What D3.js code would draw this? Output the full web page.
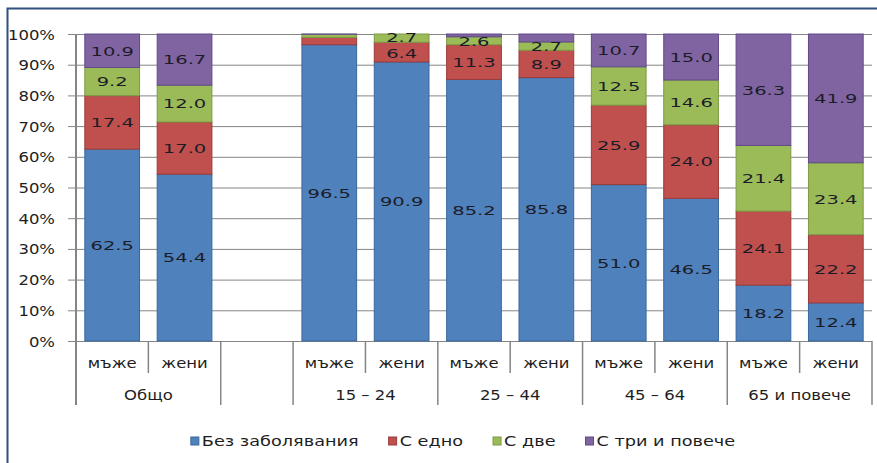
<!DOCTYPE html>
<html>
<head>
<meta charset="utf-8">
<script src="https://cdn.jsdelivr.net/npm/d3@7"></script>
<style>
  html, body { margin: 0; padding: 0; background: #fff; }
  svg { display: block; }
  text { font-family: "DejaVu Sans", Verdana, sans-serif; fill: #1e1e1e; }
</style>
</head>
<body>
<svg id="chart" width="877" height="463"></svg>
<script>
// Slots along the x axis (one empty slot separates the total from the age groups)
const slotGroup = ["Общо", "Общо", "", "15 – 24", "15 – 24", "25 – 44", "25 – 44", "45 – 64", "45 – 64", "65 и повече", "65 и повече"];
const slotSex   = ["мъже", "жени", "", "мъже", "жени", "мъже", "жени", "мъже", "жени", "мъже", "жени"];

// Share of people by number of chronic diseases (%)
const noneVals  = [62.5, 54.4, null, 96.5, 90.9, 85.2, 85.8, 51.0, 46.5, 18.2, 12.4];
const oneVals   = [17.4, 17.0, null,  2.4,  6.4, 11.3,  8.9, 25.9, 24.0, 24.1, 22.2];
const twoVals   = [ 9.2, 12.0, null,  1.0,  2.7,  2.6,  2.7, 12.5, 14.6, 21.4, 23.4];
const threeVals = [10.9, 16.7, null,  0.1,  0.0,  0.9,  2.6, 10.7, 15.0, 36.3, 41.9];

const seriesNames  = ["Без заболявания", "С едно", "С две", "С три и повече"];
const seriesColors = ["#4F81BD", "#C0504D", "#9BBB59", "#8064A2"];
const seriesStroke = ["#3b679c", "#9a3b39", "#7d9a44", "#62498a"];

// Segments left without a value label (slot, series)
const unlabeled = [[3, 1], [3, 2], [3, 3], [4, 3], [5, 3], [6, 3]];

const yTicks = [0, 10, 20, 30, 40, 50, 60, 70, 80, 90, 100];

const TX = 1.22;      // horizontal stretch of axis text
const TX_VAL = 1.5;   // horizontal stretch of value labels

const svg = d3.select("#chart");
const W = 877, H = 463;
const plot = { left: 76, right: 872, top: 34, bottom: 341 };

const slots = d3.range(slotGroup.length);
const allSeries = [noneVals, oneVals, twoVals, threeVals];

const x = d3.scaleBand()
  .domain(slots)
  .range([plot.left, plot.right])
  .paddingInner(0.23)
  .paddingOuter(0.115);

const y = d3.scaleLinear().domain([0, 1]).range([plot.bottom, plot.top]);
const yPct = d3.scaleLinear().domain([0, 100]).range([plot.bottom, plot.top]);

// frame lines on the top and left edges
svg.append("path")
  .attr("d", `M7.5,${H} L7.5,8.5 L${W},8.5`)
  .attr("fill", "none")
  .attr("stroke", "#30507f")
  .attr("stroke-width", 2);

// gridlines + ticks
const yAxis = d3.axisLeft(yPct)
  .tickValues(yTicks)
  .tickSize(-(plot.right - plot.left))
  .tickPadding(0)
  .tickFormat(d => d + "%");

const gy = svg.append("g")
  .attr("transform", `translate(${plot.left},0)`)
  .call(yAxis);
gy.select(".domain").remove();
gy.selectAll(".tick line")
  .attr("x1", -8)
  .attr("stroke", "#858585")
  .attr("stroke-width", 1);
gy.selectAll(".tick text").remove();
gy.selectAll(".tick").append("text")
  .attr("transform", `translate(-21,5) scale(${TX},1)`)
  .attr("text-anchor", "end")
  .style("font-size", "13.5px")
  .text(d => d + "%");

// stacked bars (100% stacked)
const rows = slots.filter(i => noneVals[i] != null).map(i => {
  const r = { slot: i };
  allSeries.forEach((s, k) => { r[k] = s[i]; });
  return r;
});
const stacked = d3.stack()
  .keys([0, 1, 2, 3])
  .offset(d3.stackOffsetExpand)(rows);

const layers = svg.append("g").selectAll("g")
  .data(stacked)
  .join("g")
  .attr("fill", d => seriesColors[d.key])
  .attr("stroke", d => seriesStroke[d.key])
  .attr("stroke-width", 1);

layers.selectAll("rect")
  .data(d => d)
  .join("rect")
  .attr("x", d => x(d.data.slot) + 0.5)
  .attr("width", x.bandwidth() - 1)
  .attr("y", d => y(d[1]))
  .attr("height", d => Math.max(0, y(d[0]) - y(d[1])));

// value labels, centered in their segments
const hidden = new Set(unlabeled.map(([s, k]) => s + "-" + k));
const labelData = [];
stacked.forEach(layer => {
  layer.forEach(d => {
    const slot = d.data.slot, k = layer.key;
    if (hidden.has(slot + "-" + k)) return;
    labelData.push({ slot, k, v: allSeries[k][slot], cy: y((d[0] + d[1]) / 2) });
  });
});
// keep neighbouring labels of a bar from running into each other
const minSep = 15.5;
d3.groups(labelData, d => d.slot).forEach(([, list]) => {
  list.sort((a, b) => a.cy - b.cy);
  for (let i = 1; i < list.length; i++) {
    const a = list[i - 1], b = list[i];
    const gapNow = b.cy - a.cy;
    if (gapNow < minSep) {
      const push = (minSep - gapNow) / 2;
      a.cy -= push;
      b.cy += push;
    }
  }
});
svg.append("g").selectAll("text")
  .data(labelData)
  .join("text")
  .attr("transform", d => `translate(${x(d.slot) + x.bandwidth() / 2},${d.cy + 4.8}) scale(${TX_VAL},1)`)
  .attr("text-anchor", "middle")
  .style("font-size", "13px")
  .style("fill", "#1c1c28")
  .text(d => d3.format(".1f")(d.v));

// y axis line
svg.append("line")
  .attr("x1", plot.left).attr("x2", plot.left)
  .attr("y1", plot.top).attr("y2", 405)
  .attr("stroke", "#858585").attr("stroke-width", 2);

// category axis: sex labels, group labels, separators
const step = x.step();
const boundary = k => plot.left + k * step; // edge between slot k-1 and slot k
const catG = svg.append("g");

slots.forEach(i => {
  if (slotSex[i]) {
    catG.append("text")
      .attr("transform", `translate(${x(i) + x.bandwidth() / 2},${368}) scale(${TX},1)`)
      .attr("text-anchor", "middle")
      .style("font-size", "13.5px")
      .text(slotSex[i]);
  }
});

for (let k = 1; k <= slots.length; k++) {
  const sameGroup = k < slots.length && slotGroup[k] === slotGroup[k - 1] && slotGroup[k] !== "";
  catG.append("line")
    .attr("x1", boundary(k)).attr("x2", boundary(k))
    .attr("y1", plot.bottom).attr("y2", sameGroup ? 373 : 405)
    .attr("stroke", "#858585").attr("stroke-width", 1.5);
}

const groupNames = Array.from(new Set(slotGroup.filter(g => g !== "")));
groupNames.forEach(g => {
  const idx = slots.filter(i => slotGroup[i] === g);
  const cx = (boundary(d3.min(idx)) + boundary(d3.max(idx) + 1)) / 2;
  catG.append("text")
    .attr("transform", `translate(${cx},${400}) scale(${TX},1)`)
    .attr("text-anchor", "middle")
    .style("font-size", "13.5px")
    .text(g);
});

// legend
const legend = svg.append("g");
const items = seriesNames.map((name, k) => {
  const g = legend.append("g");
  g.append("rect")
    .attr("x", 0).attr("y", -4)
    .attr("width", 8).attr("height", 8)
    .attr("fill", seriesColors[k])
    .attr("stroke", seriesStroke[k]);
  const t = g.append("text")
    .attr("transform", `translate(11,5) scale(${TX},1)`)
    .style("font-size", "14.5px")
    .text(name);
  return { g, w: 11 + t.node().getComputedTextLength() * TX };
});
const gap = 30;
const total = d3.sum(items, d => d.w) + gap * (items.length - 1);
let lx = 463 - total / 2;
items.forEach(it => {
  it.g.attr("transform", `translate(${lx},441)`);
  lx += it.w + gap;
});
</script>
</body>
</html>
